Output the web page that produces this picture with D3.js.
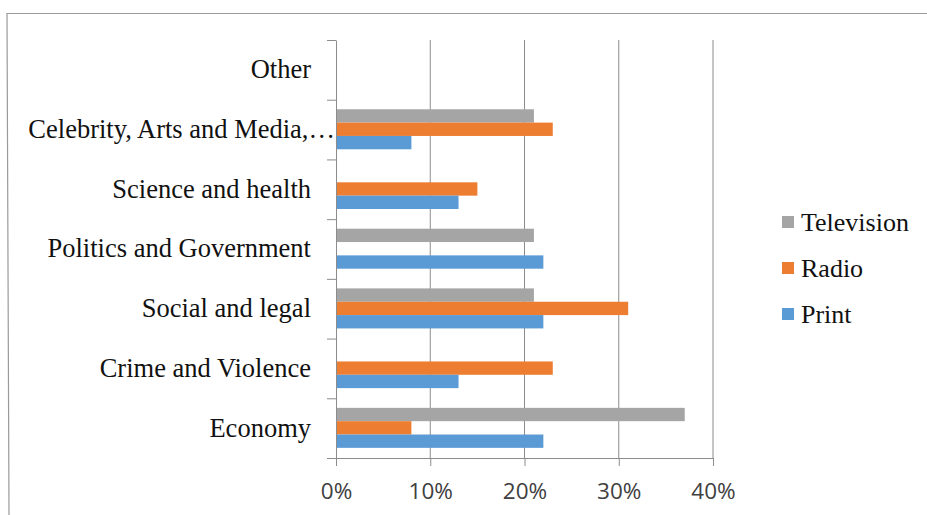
<!DOCTYPE html>
<html>
<head>
<meta charset="utf-8">
<script src="https://cdn.jsdelivr.net/npm/d3@7"></script>
<style>
  body { margin: 0; background: #fff; }
  svg { display: block; }
</style>
</head>
<body>
<div id="chart"></div>
<script>
// categories from top to bottom
var categories = ["Other", "Celebrity, Arts and Media,\u2026", "Science and health",
    "Politics and Government", "Social and legal", "Crime and Violence", "Economy"];
var series = ["Television", "Radio", "Print"];
var television = [0, 21, 0, 21, 21, 0, 37];
var radio      = [0, 23, 15, 0, 31, 23, 8];
var print      = [0, 8, 13, 22, 22, 13, 22];
var ticks = [0, 0.1, 0.2, 0.3, 0.4];
var colors = ["#a5a5a5", "#ed7d31", "#5b9bd5"];

(function(){
    var W = 927, H = 515;
    var plot = {left: 336, right: 713, top: 40, bottom: 458};
    var serif = "'Liberation Serif', 'Times New Roman', serif";

    var svg = d3.select("#chart").append("svg")
        .attr("width", W).attr("height", H);

    // chart frame
    svg.append("path")
        .attr("d", "M9,515 L7,13.5 L927,13.5")
        .style("fill", "none").style("stroke", "#9a9a9a").style("stroke-width", 1.2);

    var x = d3.scaleLinear().domain([0, 0.4]).range([plot.left, plot.right]);
    var y = d3.scaleBand().domain(categories).range([plot.top, plot.bottom]).padding(0);
    var bw = y.bandwidth();
    var sub = d3.scaleBand().domain(series).range([bw * 0.16, bw * 0.83]).padding(0);
    var color = d3.scaleOrdinal().domain(series).range(colors);

    var values = {Television: television, Radio: radio, Print: print};

    // gridlines
    svg.append("g").selectAll("line")
        .data(ticks.slice(1))
        .enter().append("line")
        .attr("x1", function(d){ return x(d); })
        .attr("x2", function(d){ return x(d); })
        .attr("y1", plot.top).attr("y2", plot.bottom)
        .style("stroke", "#8c8c8c").style("stroke-width", 1);

    // bars
    var g = svg.selectAll("g.cat")
        .data(categories)
        .enter().append("g")
        .attr("class", "cat")
        .attr("transform", function(d){ return "translate(0," + y(d) + ")"; });

    g.selectAll("rect")
        .data(function(d, i){
            return series.map(function(s){ return {s: s, v: values[s][i] / 100}; });
        })
        .enter().append("rect")
        .attr("x", x(0))
        .attr("y", function(d){ return sub(d.s); })
        .attr("height", sub.bandwidth())
        .attr("width", function(d){ return x(d.v) - x(0); })
        .style("fill", function(d){ return color(d.s); });

    // x axis
    var xAxis = d3.axisBottom(x).tickValues(ticks).tickFormat(d3.format(".0%"))
        .tickSize(8).tickSizeOuter(0);
    var gx = svg.append("g")
        .attr("transform", "translate(0," + plot.bottom + ")")
        .call(xAxis);
    gx.select(".domain").attr("d", "M" + (plot.left - 9) + ",0.5H" + plot.right)
        .style("stroke", "#8c8c8c");
    gx.selectAll(".tick line").style("stroke", "#8c8c8c");
    gx.selectAll(".tick text")
        .attr("dy", "1.33em")
        .style("font-family", "'Open Sans', sans-serif")
        .style("font-size", "22.5px")
        .style("fill", "#404040");

    // y axis
    var yAxis = d3.axisLeft(y).tickSize(0).tickPadding(26);
    var gy = svg.append("g")
        .attr("transform", "translate(" + plot.left + ",0)")
        .call(yAxis);
    gy.select(".domain").style("stroke", "#8c8c8c");
    gy.selectAll(".tick text")
        .attr("x", function(d){ return d.slice(-1) == "\u2026" ? -1 : -25; })
        .style("font-family", serif)
        .style("font-size", "26.5px")
        .style("fill", "#111");

    // category boundary ticks
    svg.append("g").selectAll("line")
        .data(categories)
        .enter().append("line")
        .attr("x1", plot.left - 9).attr("x2", plot.left)
        .attr("y1", function(d){ return y(d) + 0.5; })
        .attr("y2", function(d){ return y(d) + 0.5; })
        .style("stroke", "#8c8c8c");

    // legend
    var legend = svg.append("g").selectAll("g")
        .data(series)
        .enter().append("g")
        .attr("transform", function(d, i){ return "translate(782," + (222 + i * 46) + ")"; });
    legend.append("rect")
        .attr("x", 0).attr("y", -6).attr("width", 12).attr("height", 12)
        .style("fill", function(d){ return color(d); });
    legend.append("text")
        .attr("x", 19).attr("dy", "0.33em")
        .text(function(d){ return d; })
        .style("font-family", serif)
        .style("font-size", "26px")
        .style("fill", "#111");
})();
</script>
</body>
</html>
